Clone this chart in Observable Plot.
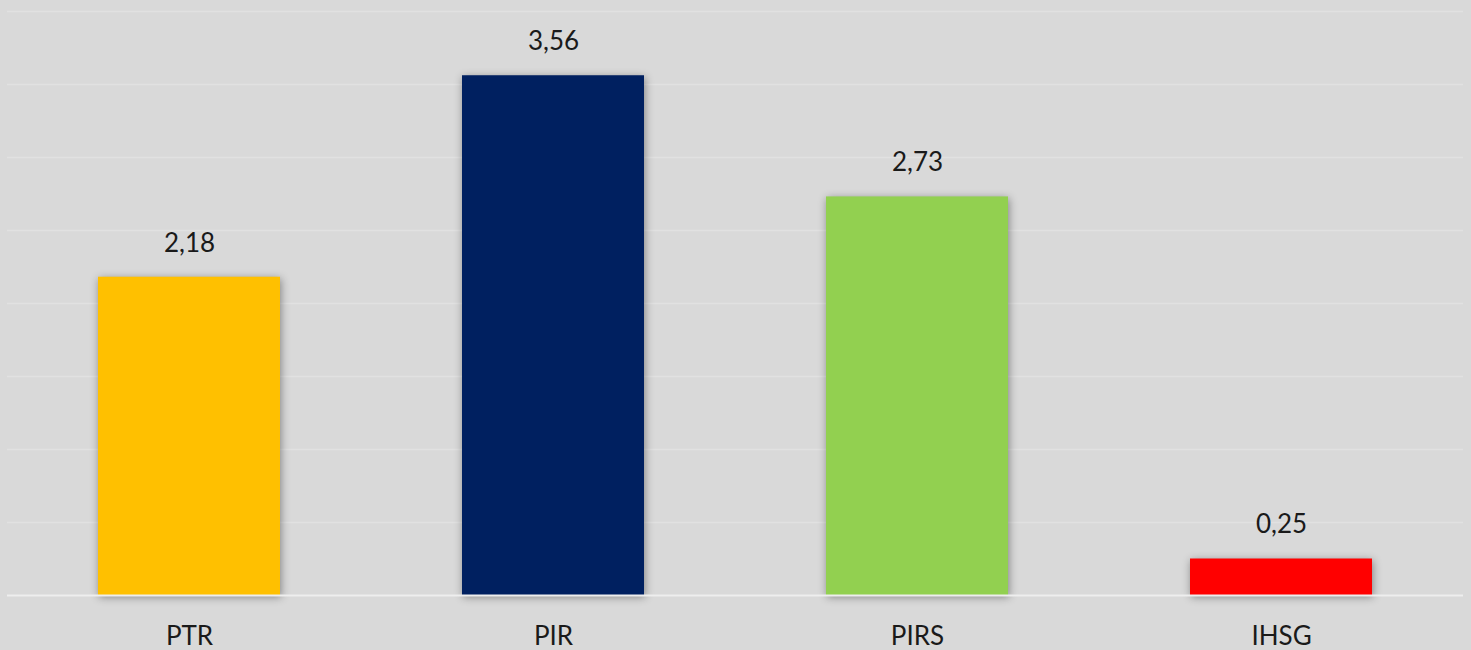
<!DOCTYPE html>
<html>
<head>
<meta charset="utf-8">
<script src="https://cdn.jsdelivr.net/npm/d3@7"></script>
<script src="https://cdn.jsdelivr.net/npm/@observablehq/plot@0.6"></script>
<style>
  html, body { margin: 0; padding: 0; background: #d9d9d9; }
  #chart svg { display: block; }
  g[aria-label="bar"] rect { filter: drop-shadow(1px 2px 4px rgba(0,0,0,0.4)); }
</style>
</head>
<body>
<div id="chart"></div>
<script>
const categories = ["PTR", "PIR", "PIRS", "IHSG"];
const values = [2.18, 3.56, 2.73, 0.25];
const colors = ["#ffc000", "#002060", "#92d050", "#ff0000"];

const data = categories.map((c, i) => ({cat: c, value: values[i], color: colors[i]}));
const fmt = v => v.toFixed(2).replace(".", ",");

const chart = Plot.plot({
  width: 1471,
  height: 650,
  marginLeft: 7,
  marginRight: 8,
  marginTop: 11,
  marginBottom: 55,
  style: {background: "#d9d9d9", fontFamily: "Lato, 'Open Sans', sans-serif", color: "#1a1a1a"},
  x: {domain: categories, paddingInner: 0.5, paddingOuter: 0.25, axis: null},
  y: {domain: [0, 4], axis: null},
  marks: [
    Plot.gridY({ticks: d3.range(0.5, 4.01, 0.5), stroke: "#e1e1e1", strokeOpacity: 1, strokeWidth: 1.5}),
    Plot.barY(data, {x: "cat", y: "value", fill: "color"}),
    Plot.ruleY([0], {stroke: "#eeeeee", strokeWidth: 2}),
    Plot.text(data, {x: "cat", y: "value", text: d => fmt(d.value), dy: -34, fontSize: 26, fill: "#1a1a1a", lineAnchor: "middle"}),
    Plot.text(data, {x: "cat", y: () => 0, text: "cat", dy: 41, fontSize: 26, fill: "#1a1a1a", lineAnchor: "middle"})
  ]
});
document.getElementById("chart").appendChild(chart);
</script>
</body>
</html>
